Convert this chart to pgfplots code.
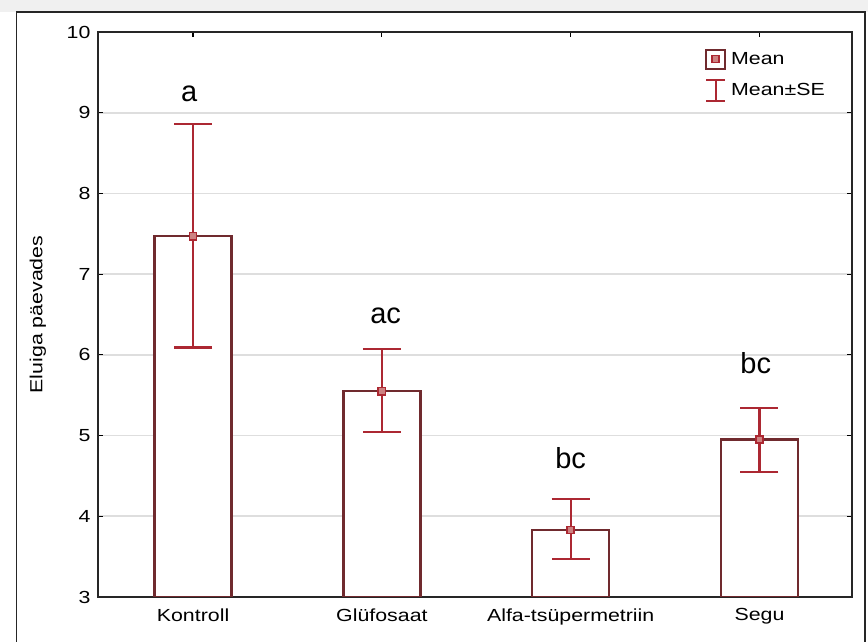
\documentclass[border=0pt]{standalone}
\usepackage{pgfplots}
\pgfplotsset{compat=1.18}
\usepackage{fontspec}
\setmainfont{Liberation Sans}
\newfontfamily\axfont[FakeStretch=1.22]{Liberation Sans}
\definecolor{barcol}{RGB}{112,42,46}
\definecolor{errcol}{RGB}{172,40,50}
\definecolor{markfill}{RGB}{205,130,130}
\definecolor{gridcol}{RGB}{222,222,222}
\newcommand{\axf}{\axfont\fontsize{17.5}{21}\selectfont}
\begin{document}
\begin{tikzpicture}
\path[use as bounding box] (0pt,0pt) rectangle (868pt,642pt);
\fill[gray!12] (0pt,630pt) rectangle (868pt,642pt);
\fill[white] (16.5pt,0pt) rectangle (865pt,630pt);
\draw[black!85, line width=1.5pt] (16.5pt,0pt) -- (16.5pt,630pt) -- (865pt,630pt) -- (865pt,0pt);
\begin{axis}[
  at={(98pt,45pt)}, anchor=south west,
  scale only axis, width=754pt, height=565pt,
  xmin=-0.5035, xmax=3.49, ymin=3, ymax=10,
  xtick={0,1,2,3},
  xticklabels={Kontroll,Glüfosaat,Alfa-tsüpermetriin,Segu},
  ytick={3,4,5,6,7,8,9,10},
  /pgf/number format/assume math mode=true,
  tick label style={font=\axf},
  xticklabel style={yshift=-8pt},
  yticklabel style={xshift=-4pt},
  tick align=inside, major tick length=5pt,
  tick style={black, line width=1.2pt},
  axis line style={black!85, line width=2pt},
  ymajorgrids, grid style={gridcol, line width=1.8pt},
  ylabel={Eluiga päevades},
  ylabel style={font=\axf, at={(axis description cs:-0.0797,0.5)}, anchor=center},
  legend style={at={(rel axis cs:0.805,0.971)}, anchor=north west, draw=none, fill=none,
    font=\axf, inner sep=0pt, row sep=9pt, cells={anchor=west},
    /tikz/every odd column/.append style={column sep=3pt}},
]
\addlegendimage{legend image code/.code={
  \draw[barcol, line width=2pt] (0pt,-9.5pt) rectangle (19pt,9.5pt);
  \draw[errcol, line width=1.6pt, fill=markfill] (6pt,-3.5pt) rectangle (13pt,3.5pt);}}
\addlegendentry{Mean}
\addlegendimage{legend image code/.code={
  \draw[errcol, line width=2pt] (9.5pt,-10.5pt) -- (9.5pt,10.5pt);
  \draw[errcol, line width=2pt] (0pt,10.5pt) -- (19pt,10.5pt);
  \draw[errcol, line width=2pt] (0pt,-10.5pt) -- (19pt,-10.5pt);}}
\addlegendentry{Mean±SE}
\addplot[ybar, bar width=77pt, fill=white, draw=barcol, line width=2.3pt, forget plot]
  coordinates {(0,7.47) (1,5.55) (2,3.83) (3,4.95)};
\addplot[only marks, mark=square*, mark size=3.6pt, forget plot,
  mark options={draw=errcol, fill=markfill, line width=1.6pt},
  error bars/.cd, y dir=both, y explicit,
  error bar style={errcol, line width=2.2pt},
  error mark options={errcol, line width=2.2pt, mark size=19pt, rotate=90}]
  table[x=x, y=y, y error plus=ep, y error minus=em] {
  x y ep em
  0 7.47 1.39 1.38
  1 5.55 0.52 0.51
  2 3.83 0.38 0.36
  3 4.95 0.39 0.40
  };
\node[font=\fontsize{29}{34}\selectfont, anchor=base] at (axis cs:-0.02,9.136) {a};
\node[font=\fontsize{29}{34}\selectfont, anchor=base] at (axis cs:1.02,6.394) {ac};
\node[font=\fontsize{29}{34}\selectfont, anchor=base] at (axis cs:2.0,4.59) {bc};
\node[font=\fontsize{29}{34}\selectfont, anchor=base] at (axis cs:2.98,5.775) {bc};
\end{axis}
\end{tikzpicture}
\end{document}
